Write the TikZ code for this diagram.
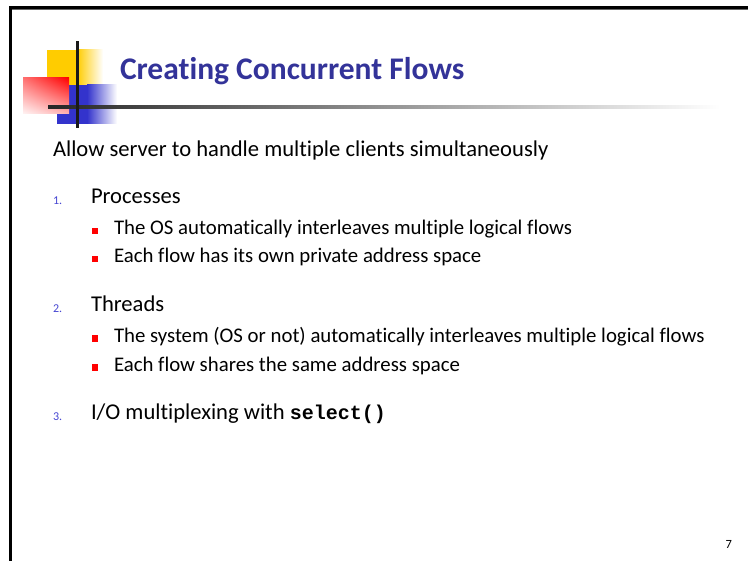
\documentclass[tikz,border=0pt]{standalone}
\usepackage{fontspec}
\usetikzlibrary{shadings}
\setmainfont{Carlito}[Ligatures=NoCommon]
\newfontfamily\monob{Liberation Mono}[BoldFont={Liberation Mono Bold}]
\definecolor{titleblue}{RGB}{51,51,153}
\definecolor{numblue}{RGB}{70,70,210}
\definecolor{logoyellow}{RGB}{255,204,0}
\definecolor{logoblue}{RGB}{51,51,204}
\definecolor{logored}{RGB}{255,0,0}
\tikzset{
  txt/.style={anchor=base west, inner sep=0pt, outer sep=0pt},
  lvlone/.style={txt, font=\fontsize{22.6}{26}\selectfont},
  lvltwo/.style={txt, font=\fontsize{20.8}{24}\selectfont},
  num/.style={txt, font=\fontsize{12}{14}\selectfont, text=numblue},
  bulletsq/.style={fill=logored, draw=none},
}
\begin{document}
\begin{tikzpicture}[x=1pt,y=-1pt]
\useasboundingbox (0,0) rectangle (748,561);
\fill[white] (0,0) rectangle (748,561);
% frame
\fill[black!60] (9,9) rectangle (748,10.5);
\fill[black] (9,6) rectangle (748,9);
\fill[black] (9,6) rectangle (12,561);
% logo
\fill[logoyellow] (47,50) rectangle (77,85);
\shade[left color=logoyellow, right color=white] (77,50) rectangle (103,85);
\fill[logoblue] (57,85) rectangle (87,124);
\shade[left color=logoblue, right color=white] (87,85) rectangle (117,124);
\shade[upper right=logored, upper left=logored!55, lower right=logored!30, lower left=logored!4] (23,78) rectangle (69,114);
\shade[left color=black!85, right color=white] (48,105.7) rectangle (720,108.5);
\fill[black!90] (75.5,41) rectangle (78.5,128);
% title
\node[txt, font=\fontsize{31.5}{38}\bfseries\selectfont, text=titleblue] (title) at (120,80) {Creating Concurrent Flows};
% body
\node[lvlone] (intro) at (53,157) {Allow server to handle multiple clients simultaneously};
\node[num] (n1) at (53,205) {1.};
\node[lvlone] (p) at (91,204) {Processes};
\fill[bulletsq] (92,228) rectangle (98,234);
\node[lvltwo] (p1) at (114,235) {The OS automatically interleaves multiple logical flows};
\fill[bulletsq] (92,256.5) rectangle (98,262.5);
\node[lvltwo] (p2) at (114,263) {Each flow has its own private address space};
\node[num] (n2) at (53,313) {2.};
\node[lvlone] (t) at (91,312) {Threads};
\fill[bulletsq] (92,335) rectangle (98,342);
\node[lvltwo] (t1) at (114,343) {The system (OS or not) automatically interleaves multiple logical flows};
\fill[bulletsq] (92,364) rectangle (98,371);
\node[lvltwo] (t2) at (114,372) {Each flow shares the same address space};
\node[num] (n3) at (53,421) {3.};
\node[lvlone] (io) at (91,420) {I/O multiplexing with {\monob\bfseries\fontsize{20}{24}\selectfont select()}};
\node[txt, font=\fontsize{12.5}{14}\selectfont] (pg) at (725.5,548) {7};
\end{tikzpicture}
\end{document}
